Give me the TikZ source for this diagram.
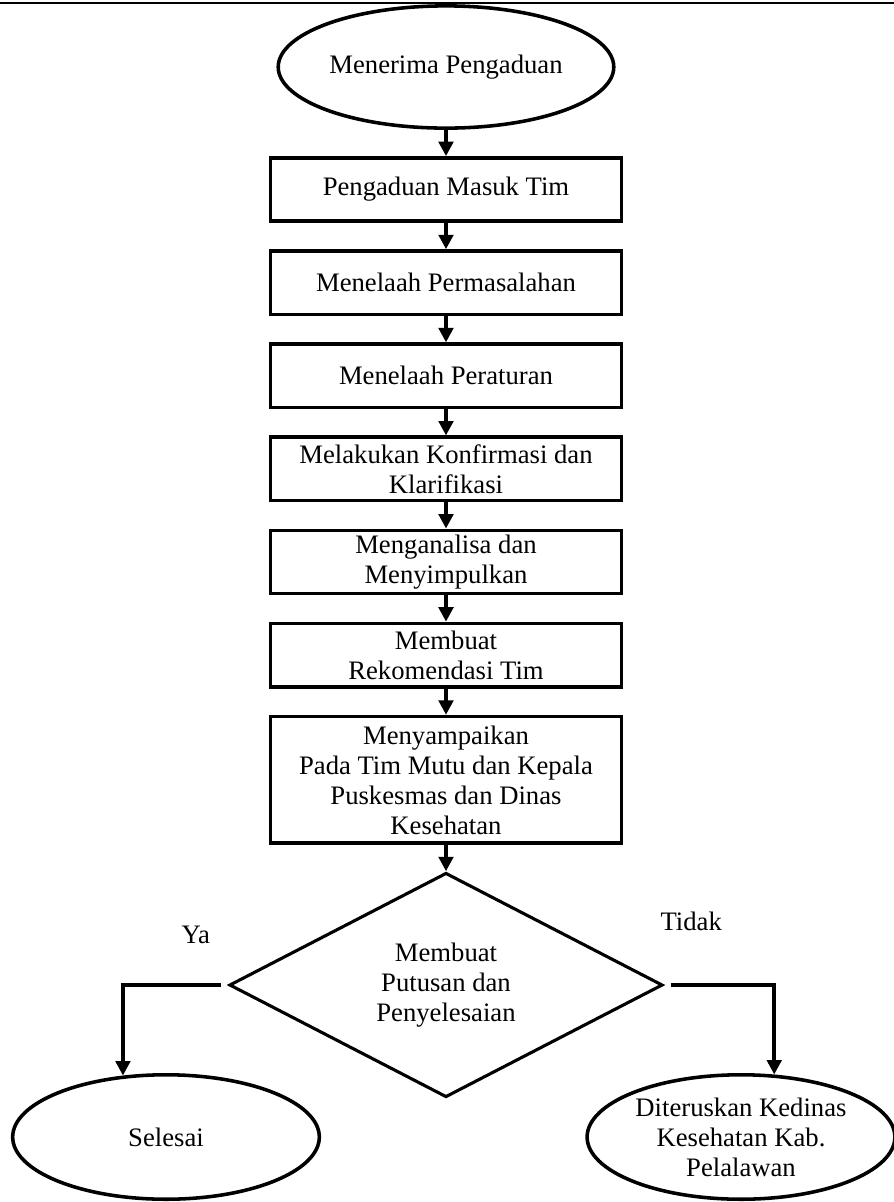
\documentclass[tikz,border=0pt]{standalone}
\usepackage{fontspec}
\setmainfont{Liberation Serif}
\usetikzlibrary{shapes.geometric, arrows.meta, positioning, calc}

\begin{document}
\begin{tikzpicture}[
    x=0.45pt, y=0.45pt,
    node distance=11.8pt,
    font=\fontsize{12}{13.5}\selectfont,
    terminal/.style={ellipse, draw, line width=1.6pt, inner sep=0pt, align=center},
    proc/.style={rectangle, draw, line width=1.6pt, minimum width=158pt, minimum height=28.5pt, inner sep=1pt, align=center},
    decision/.style={diamond, draw, line width=1.4pt, minimum width=195pt, minimum height=101pt, inner sep=0pt, align=center},
    arrow/.style={-{Triangle[length=6.5pt, width=6.5pt]}, line width=1.6pt},
    lbl/.style={inner sep=0pt},
]
    \useasboundingbox (0,0) rectangle (894,-1202);

    % Rule at the top of the page
    \coordinate (garisL) at (0,-3);
    \coordinate (garisR) at (894,-3);
    \draw[line width=1.2pt] (garisL) -- (garisR);

    % Main flow
    \node[terminal, minimum width=151pt, minimum height=55pt] (terima) at (446,-67) {Menerima Pengaduan};
    \node[proc, below=of terima] (masuk) {Pengaduan Masuk Tim};
    \node[proc, below=of masuk] (masalah) {Menelaah Permasalahan};
    \node[proc, below=of masalah] (aturan) {Menelaah Peraturan};
    \node[proc, below=of aturan] (konfirmasi) {Melakukan Konfirmasi dan\\Klarifikasi};
    \node[proc, below=of konfirmasi] (analisa) {Menganalisa dan\\Menyimpulkan};
    \node[proc, below=of analisa] (rekomendasi) {Membuat\\Rekomendasi Tim};
    \node[proc, below=of rekomendasi, minimum height=57pt] (sampaikan) {Menyampaikan\\Pada Tim Mutu dan Kepala\\Puskesmas dan Dinas\\Kesehatan};
    \node[decision, below=of sampaikan] (putusan) {Membuat\\Putusan dan\\Penyelesaian};

    % End points
    \node[terminal, minimum width=138pt, minimum height=56pt] (selesai) at (166,-1137) {Selesai};
    \node[terminal, minimum width=138.5pt, minimum height=56pt] (diteruskan) at (741,-1137) {Diteruskan Kedinas\\Kesehatan Kab.\\Pelalawan};

    % Arrows
    \draw[arrow] (terima) -- (masuk);
    \draw[arrow] (masuk) -- (masalah);
    \draw[arrow] (masalah) -- (aturan);
    \draw[arrow] (aturan) -- (konfirmasi);
    \draw[arrow] (konfirmasi) -- (analisa);
    \draw[arrow] (analisa) -- (rekomendasi);
    \draw[arrow] (rekomendasi) -- (sampaikan);
    \draw[arrow] (sampaikan) -- (putusan);
    \draw[arrow, shorten <=3pt] (putusan.west) -| (selesai.125);
    \draw[arrow, shorten <=3pt] (putusan.east) -| (diteruskan.62);

    % Branch labels
    \node[lbl] (ya) at ($(putusan.west)+(-32,50)$) {Ya};
    \node[lbl] (tidak) at ($(putusan.east)+(27,64)$) {Tidak};
\end{tikzpicture}
\end{document}
